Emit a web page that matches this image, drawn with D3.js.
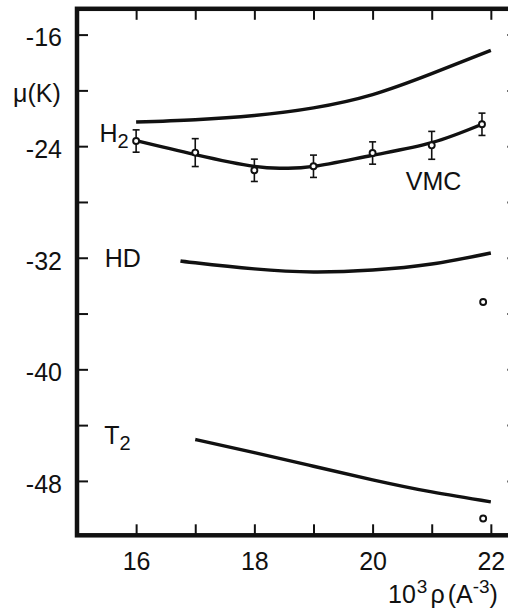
<!DOCTYPE html>
<html>
<head>
<meta charset="utf-8">
<script src="https://cdn.jsdelivr.net/npm/d3@7"></script>
<style>
  html, body { margin: 0; padding: 0; background: #fff; }
  svg { display: block; }
  text { font-family: "Liberation Sans", Arial, sans-serif; fill: #111; }
</style>
</head>
<body>
<svg id="chart" width="508" height="609"></svg>
<script>
// Chemical potential of liquid hydrogen isotopes vs. density
const xTicks = [16, 17, 18, 19, 20, 21, 22];
const xLabels = [16, 18, 20, 22];
const yTicks = [-48, -44, -40, -36, -32, -28, -24, -20, -16];
const yLabels = [-48, -40, -32, -24, -16];

// VMC results for H2 with error bars
const vmcRho = [16, 17, 18, 19, 20, 21, 21.85];
const vmcMu = [-23.63, -24.46, -25.73, -25.44, -24.49, -23.94, -22.43];
const vmcErr = [0.8, 1.0, 0.8, 0.8, 0.8, 1.0, 0.8];

// H2 curve through the VMC points
const h2Rho = [16, 17, 18, 18.5, 19, 20, 21, 21.85];
const h2Mu = [-23.6, -24.6, -25.45, -25.58, -25.45, -24.65, -23.75, -22.43];

// upper H2 curve
const upRho = [16, 17, 18, 19, 20, 21, 22];
const upMu = [-22.27, -22.1, -21.8, -21.25, -20.3, -18.8, -17.13];

// HD curve
const hdRho = [16.75, 17, 18, 19, 20, 21, 22];
const hdMu = [-32.23, -32.36, -32.8, -33.02, -32.88, -32.45, -31.66];

// T2 curve
const t2Rho = [17, 18, 19, 20, 21, 22];
const t2Mu = [-45.03, -45.97, -46.95, -47.92, -48.79, -49.5];

// single points for HD and T2
const extraRho = [21.87, 21.87];
const extraMu = [-35.17, -50.7];

const FONT = 25;
const svg = d3.select("#chart");

const x = d3.scaleLinear().domain([15, 22.5]).range([77, 520.4]);
const y = d3.scaleLinear().domain([-51.9, -14.15]).range([535.3, 8.8]);

// frame
svg.append("rect")
  .attr("x", x(15)).attr("y", y(-14.15))
  .attr("width", x(22.5) - x(15)).attr("height", y(-51.9) - y(-14.15))
  .attr("fill", "none").attr("stroke", "#111").attr("stroke-width", 4.5);

function styleAxis(g) {
  g.select(".domain").remove();
  g.selectAll(".tick line").attr("stroke", "#111").attr("stroke-width", 2);
  g.selectAll(".tick text").attr("font-size", FONT).attr("fill", "#111")
    .attr("font-family", "'Liberation Sans', Arial, sans-serif");
}

// left axis
svg.append("g").attr("transform", `translate(${x(15)},0)`)
  .call(d3.axisLeft(y).tickValues(yTicks).tickSize(-11).tickPadding(15)
    .tickFormat(d => yLabels.includes(d) ? String(d) : ""))
  .call(styleAxis)
  .call(g => g.selectAll(".tick text").attr("dy", "0.45em"));

// right axis ticks
svg.append("g").attr("transform", `translate(${x(22.5)},0)`)
  .call(d3.axisRight(y).tickValues(yTicks).tickSize(-13).tickFormat(""))
  .call(styleAxis);

// bottom axis
svg.append("g").attr("transform", `translate(0,${y(-51.9)})`)
  .call(d3.axisBottom(x).tickValues(xTicks).tickSize(-11).tickPadding(16)
    .tickFormat(d => xLabels.includes(d) ? String(d) : ""))
  .call(styleAxis)
  .call(g => g.selectAll(".tick text").attr("dy", "0.75em"));

// top axis ticks
svg.append("g").attr("transform", `translate(0,${y(-14.15)})`)
  .call(d3.axisTop(x).tickValues(xTicks).tickSize(-11).tickFormat(""))
  .call(styleAxis);

// curves
const line = d3.line().x(d => x(d[0])).y(d => y(d[1])).curve(d3.curveNatural);
const curves = [
  [upRho, upMu],
  [h2Rho, h2Mu],
  [hdRho, hdMu],
  [t2Rho, t2Mu]
];
curves.forEach(([xs, ys]) => {
  svg.append("path")
    .datum(xs.map((v, i) => [v, ys[i]]))
    .attr("d", line)
    .attr("fill", "none").attr("stroke", "#111")
    .attr("stroke-width", 3.4).attr("stroke-linecap", "butt");
});

// VMC error bars
const eb = svg.append("g").attr("stroke", "#111").attr("stroke-width", 1.6);
vmcRho.forEach((r, i) => {
  const cx = x(r), lo = y(vmcMu[i] - vmcErr[i]), hi = y(vmcMu[i] + vmcErr[i]);
  eb.append("line").attr("x1", cx).attr("x2", cx).attr("y1", lo).attr("y2", hi);
  eb.append("line").attr("x1", cx - 3.5).attr("x2", cx + 3.5).attr("y1", lo).attr("y2", lo);
  eb.append("line").attr("x1", cx - 3.5).attr("x2", cx + 3.5).attr("y1", hi).attr("y2", hi);
});

// VMC markers and single points
svg.append("g").selectAll("circle")
  .data(vmcRho.map((r, i) => [r, vmcMu[i]]).concat(extraRho.map((r, i) => [r, extraMu[i]])))
  .join("circle")
  .attr("cx", d => x(d[0])).attr("cy", d => y(d[1])).attr("r", 3)
  .attr("fill", "#fff").attr("stroke", "#111").attr("stroke-width", 1.9);

// curve labels
function subLabel(rx, mu, main, sub) {
  const t = svg.append("text").attr("x", x(rx)).attr("y", y(mu)).attr("font-size", FONT);
  t.append("tspan").text(main);
  if (sub) t.append("tspan").attr("dy", 6).attr("font-size", 20).text(sub);
}
subLabel(15.38, -23.7, "H", "2");
subLabel(15.47, -32.68, "HD");
subLabel(15.46, -45.32, "T", "2");
svg.append("text").attr("x", x(20.56)).attr("y", y(-27.16)).attr("font-size", FONT).text("VMC");

// axis titles
svg.append("text").attr("x", 13).attr("y", 102).attr("font-size", FONT).text("μ(K)");

const xt = svg.append("text").attr("x", 388).attr("y", 603).attr("font-size", FONT);
xt.append("tspan").text("10");
xt.append("tspan").attr("dy", -10).attr("dx", 1).attr("font-size", 19).text("3");
xt.append("tspan").attr("dy", 10).attr("dx", 3).text("ρ");
xt.append("tspan").attr("dx", 3).text("(A");
xt.append("tspan").attr("dy", -10).attr("font-size", 19).text("-3");
xt.append("tspan").attr("dy", 10).text(")");
</script>
</body>
</html>
